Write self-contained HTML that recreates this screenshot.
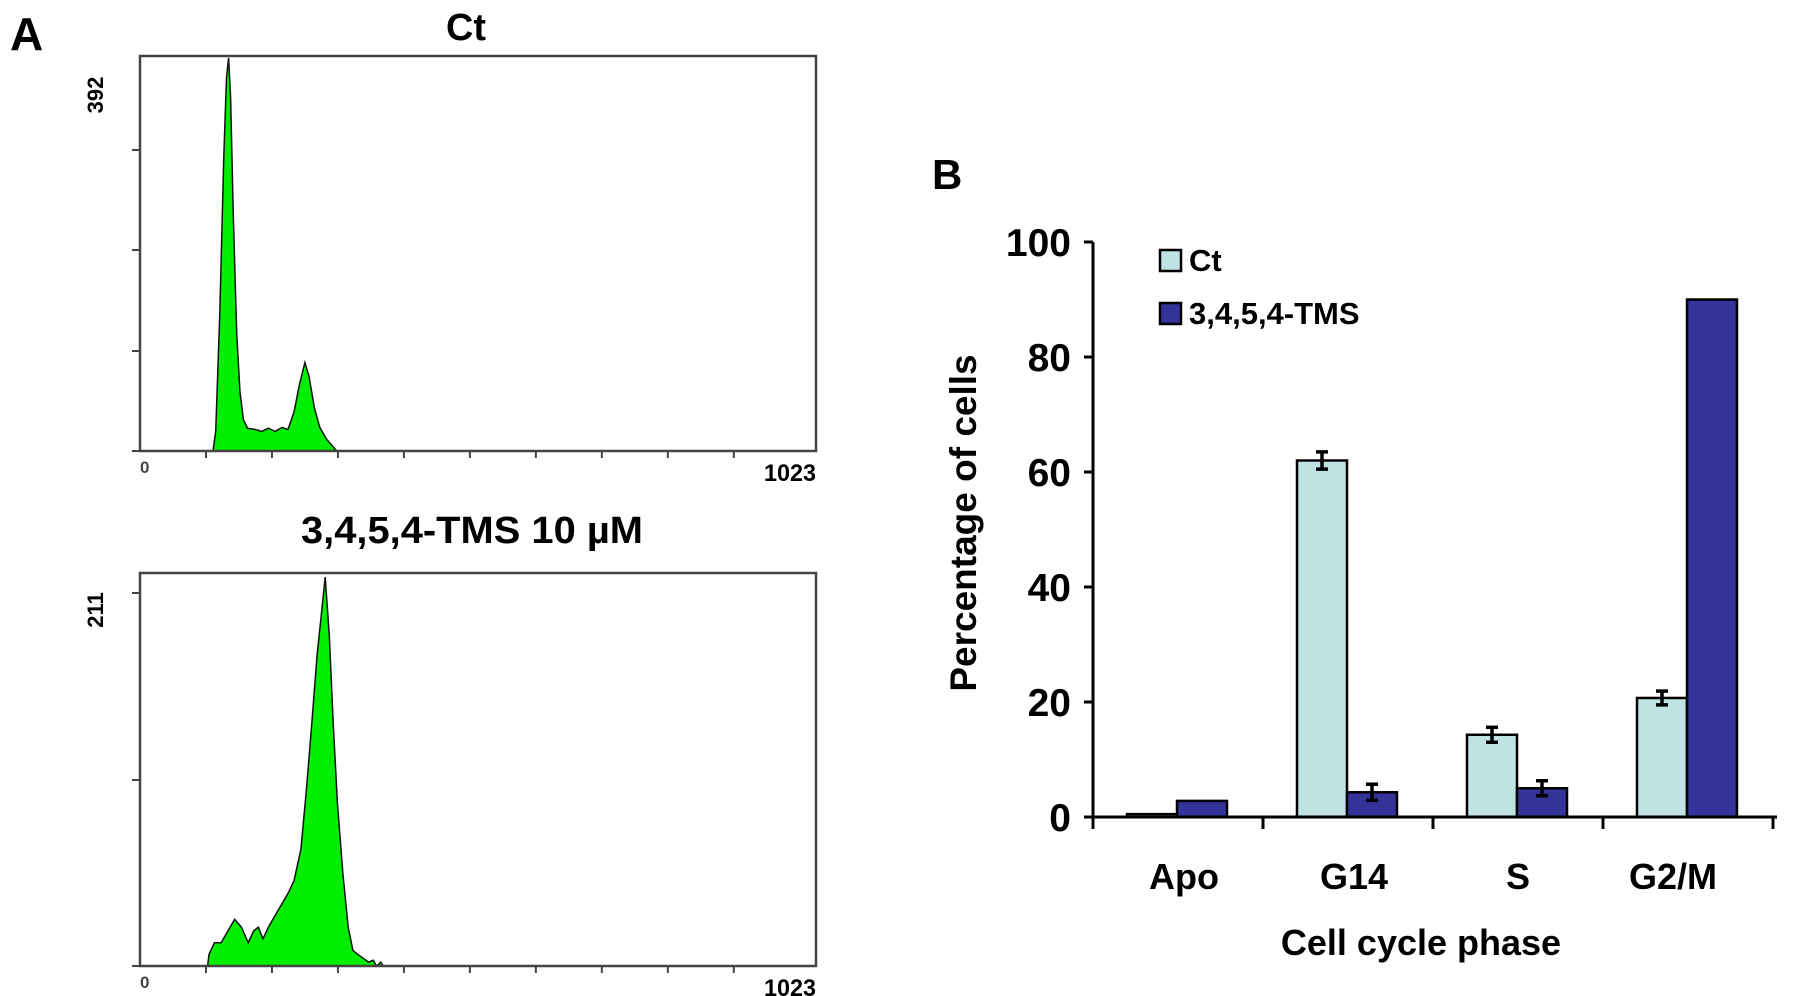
<!DOCTYPE html>
<html><head><meta charset="utf-8"><style>
html,body{margin:0;padding:0;background:#fff;}
svg{display:block;font-family:"Liberation Sans",Arial,sans-serif;font-weight:bold;}
</style></head><body>
<svg id="fig" width="1795" height="996" viewBox="0 0 1795 996">
<text x="10" y="50" font-size="46">A</text>
<text x="466" y="40" font-size="38" text-anchor="middle" textLength="40" lengthAdjust="spacingAndGlyphs">Ct</text>
<text x="472" y="543" font-size="38" text-anchor="middle" textLength="342" lengthAdjust="spacingAndGlyphs">3,4,5,4-TMS 10 µM</text>
<g id="h1"></g>
<g id="h2"></g>
<text x="932" y="189" font-size="42">B</text>
<g id="bar"></g>
</svg>
<script>
// Histogram data: channel fraction (0-1) and relative count (0-1)
const ctX = [0,0.108,0.112,0.118,0.124,0.128,0.131,0.134,0.138,0.143,0.148,0.153,0.159,0.17,0.18,0.19,0.2,0.21,0.219,0.228,0.236,0.244,0.25,0.258,0.266,0.276,0.291,1];
const ctY = [0,0,0.05,0.35,0.75,0.95,1.0,0.9,0.6,0.3,0.15,0.08,0.058,0.055,0.05,0.058,0.05,0.06,0.055,0.1,0.17,0.225,0.19,0.11,0.06,0.03,0,0];
const tmsX = [0,0.1,0.102,0.11,0.12,0.13,0.14,0.15,0.16,0.168,0.175,0.182,0.19,0.2,0.21,0.22,0.228,0.238,0.246,0.254,0.262,0.268,0.274,0.28,0.286,0.292,0.3,0.308,0.315,0.322,0.33,0.338,0.345,0.35,0.356,0.36,1];
const tmsY = [0,0,0.03,0.06,0.06,0.09,0.12,0.1,0.06,0.09,0.1,0.07,0.1,0.13,0.16,0.19,0.22,0.3,0.45,0.62,0.8,0.9,1.0,0.85,0.62,0.42,0.24,0.1,0.04,0.03,0.02,0.01,0.015,0.0,0.01,0,0];
const ctYLabel = "392", tmsYLabel = "211";

// Bar chart data
const categories = ["Apo","G14","S","G2/M"];
const ctValues = [0.5,62,14.3,20.7];
const ctErrors = [0,1.5,1.3,1.2];
const tmsValues = [2.8,4.3,5,90];
const tmsErrors = [0,1.4,1.3,0];
const yTicks = [0,20,40,60,80,100];
const seriesNames = ["Ct","3,4,5,4-TMS"];

const NS="http://www.w3.org/2000/svg";
function mk(tag,attrs,parent){const e=document.createElementNS(NS,tag);for(const k in attrs)e.setAttribute(k,attrs[k]);parent.appendChild(e);return e;}

function hist(g,xs,ys,L,T,R,B,peakTop,ticksY,ylab,ylabY,tag){
  const sx=f=>L+f*(R-L), sy=v=>B-v*(B-peakTop);
  let d="M"+sx(xs[0])+","+B;
  for(let i=0;i<xs.length;i++) d+=" L"+sx(xs[i]).toFixed(1)+","+sy(ys[i]).toFixed(1);
  d+=" L"+sx(xs[xs.length-1])+","+B+" Z";
  const p=mk("path",{d:d,fill:"#00ee00",stroke:"#111","stroke-width":1.5},g);
  
  
  const box=mk("rect",{x:L,y:T,width:R-L,height:B-T,fill:"none",stroke:"#444","stroke-width":2.5},g);
  
  
  for(const ty of ticksY){const t=mk("line",{x1:L-8,x2:L,y1:ty,y2:ty,stroke:"#444","stroke-width":2},g);
    
    }
  for(let i=1;i<=9;i++){const x=L+i*(R-L)*0.0976;const t=mk("line",{x1:x,x2:x,y1:B,y2:B+7,stroke:"#444","stroke-width":2},g);
    
    }
  const yl=mk("text",{x:0,y:0,"font-size":22,"text-anchor":"middle",transform:"translate("+(L-37)+","+ylabY+") rotate(-90)"},g);
  yl.textContent=ylab;
  
  
  const z=mk("text",{x:L,y:B+22,"font-size":17,fill:"#444"},g);z.textContent="0";
  
  
  const m=mk("text",{x:R,y:B+30,"font-size":24,"text-anchor":"end",textLength:52,lengthAdjust:"spacingAndGlyphs"},g);m.textContent="1023";
  
  
}
hist(document.getElementById("h1"),ctX,ctY,140,56,816,451,58,[150,250,351,451],ctYLabel,95,"ct");
hist(document.getElementById("h2"),tmsX,tmsY,140,573,816,966,577,[593,780,966],tmsYLabel,610,"tms");

// Bar chart
const g=document.getElementById("bar");
const X0=1093,X1=1777,Y0=817,Y100=242;
const groupW=170, barW=50, off=34;
const y=v=>Y0-(v/100)*(Y0-Y100);
const gx=i=>X0+i*groupW;
for(const t of yTicks){
  const l=mk("line",{x1:X0-9,x2:X0,y1:y(t),y2:y(t),stroke:"#000","stroke-width":3},g);
  
  
  const tx=mk("text",{x:X0-22,y:y(t)+14,"font-size":39,"text-anchor":"end"},g);tx.textContent=t;
  
  
}
const yt=mk("text",{x:0,y:0,"font-size":37,"text-anchor":"middle",transform:"translate(976,523) rotate(-90)"},g);
yt.textContent="Percentage of cells";


const xt=mk("text",{x:1421,y:955,"font-size":36,"text-anchor":"middle"},g);
xt.textContent="Cell cycle phase";


function errbar(cx,v,e){
  if(!e) return;
  const l=mk("line",{x1:cx,x2:cx,y1:y(v+e),y2:y(v-e),stroke:"#000","stroke-width":3.5},g);
  
  
  for(const vv of [v+e,v-e]){const c=mk("line",{x1:cx-6,x2:cx+6,y1:y(vv),y2:y(vv),stroke:"#000","stroke-width":3.5},g);
    
    }
}
const labelShift=[6,6,0,-15];
categories.forEach((c,i)=>{
  const x=gx(i)+off;
  const b1=mk("rect",{x:x,y:y(ctValues[i]),width:barW,height:y(0)-y(ctValues[i]),fill:"#bfe3e3",stroke:"#000","stroke-width":2.5},g);
  
  
  const b2=mk("rect",{x:x+barW,y:y(tmsValues[i]),width:barW,height:y(0)-y(tmsValues[i]),fill:"#333399",stroke:"#000","stroke-width":2.5},g);
  
  
  errbar(x+barW/2,ctValues[i],ctErrors[i]);
  errbar(x+barW*1.5,tmsValues[i],tmsErrors[i]);
  const lab=mk("text",{x:gx(i)+groupW/2+labelShift[i],y:889,"font-size":36,"text-anchor":"middle"},g);
  lab.textContent=c;
  
  
});
const ya=mk("line",{x1:X0,x2:X0,y1:Y100,y2:Y0,stroke:"#000","stroke-width":3},g);


const xa=mk("line",{x1:X0,x2:X1,y1:Y0,y2:Y0,stroke:"#000","stroke-width":3},g);


for(let i=0;i<=categories.length;i++){const t=mk("line",{x1:gx(i),x2:gx(i),y1:Y0,y2:Y0+12,stroke:"#000","stroke-width":3},g);
  
  }
const cols=["#bfe3e3","#333399"];
seriesNames.forEach((n,i)=>{
  const yy=250+i*53;
  const s=mk("rect",{x:1160,y:yy,width:21,height:21,fill:cols[i],stroke:"#000","stroke-width":2.5},g);
  
  
  const t=mk("text",{x:1189,y:yy+21,"font-size":31},g);t.textContent=n;
  
  
});
</script>
</body></html>
